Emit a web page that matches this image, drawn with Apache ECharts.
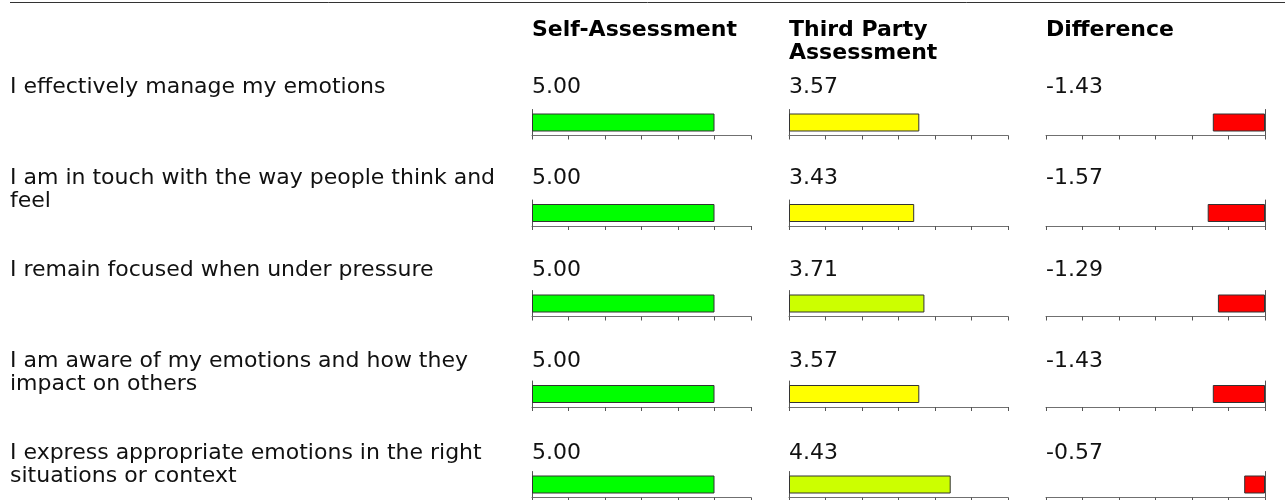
<!DOCTYPE html>
<html>
<head>
<meta charset="utf-8">
<title>Assessment comparison</title>
<script src="https://cdn.jsdelivr.net/npm/echarts@6/dist/echarts.min.js"></script>
<style>
  html, body { margin: 0; padding: 0; background: #fff; }
  #chart { width: 1285px; height: 500px; }
</style>
</head>
<body>
<div id="chart"></div>
<script>
// Statements being rated
const categories = [
  'I effectively manage my emotions',
  'I am in touch with the way people think and feel',
  'I remain focused when under pressure',
  'I am aware of my emotions and how they impact on others',
  'I express appropriate emotions in the right situations or context'
];
// Scores per statement
const selfScores = [5.00, 5.00, 5.00, 5.00, 5.00];
const thirdPartyScores = [3.57, 3.43, 3.71, 3.57, 4.43];
const differences = [-1.43, -1.57, -1.29, -1.43, -0.57];
// Column headings
const columnTitles = ['Self-Assessment', 'Third Party\nAssessment', 'Difference'];
// Scale ticks (0..6 for scores, -6..0 for the difference)
const scoreTicks = [0, 1, 2, 3, 4, 5, 6];
const diffTicks = [-6, -5, -4, -3, -2, -1, 0];

// ---- layout ----
const FONT = "'DejaVu Sans', Verdana, sans-serif";
const FONT_SIZE = 22;
const LINE_H = 23;
const LABEL_X = 10;
const COL_X = [532, 789, 1046];
const AXIS_W = 219;
const ROW_PITCH = 90.5;
const TEXT_PITCH = 91.5;
const GRID_TOP = 109.5;
const GRID_H = 26;
const TEXT_TOP = 75.5;
const HEAD_TOP = 18.5;

function barColor(col, v) {
  if (col === 2) return '#ff0000';
  if (v >= 4.75) return '#00ff00';
  if (v >= 3.65) return '#ccff00';
  return '#ffff00';
}

function textStyle(text, bold, extra) {
  return Object.assign({
    text: text,
    fontFamily: FONT,
    fontSize: FONT_SIZE,
    fontWeight: bold ? 'bold' : 'normal',
    fill: bold ? '#000' : '#111',
    lineHeight: LINE_H,
    verticalAlign: 'top',
    align: 'left'
  }, extra || {});
}

const columns = [selfScores, thirdPartyScores, differences];
const grids = [], xAxes = [], yAxes = [], series = [], graphics = [];

// rule across the top
graphics.push({
  type: 'line',
  shape: { x1: LABEL_X, y1: 2.5, x2: 1285, y2: 2.5 },
  style: { stroke: '#333', lineWidth: 1 }
});

// column headings
columnTitles.forEach((t, c) => {
  graphics.push({ type: 'text', x: COL_X[c], y: HEAD_TOP, style: textStyle(t, true) });
});

categories.forEach((name, r) => {
  const dy = r * ROW_PITCH;
  const ty = TEXT_TOP + r * TEXT_PITCH;
  graphics.push({
    type: 'text', x: LABEL_X, y: ty,
    style: textStyle(name, false, { width: 512, overflow: 'break' })
  });

  columns.forEach((vals, c) => {
    const v = vals[r];
    const k = r * 3 + c;
    const isDiff = c === 2;
    const ticks = isDiff ? diffTicks : scoreTicks;

    graphics.push({ type: 'text', x: COL_X[c], y: ty, style: textStyle(v.toFixed(2), false) });

    grids.push({ left: COL_X[c], top: GRID_TOP + dy, width: AXIS_W, height: GRID_H, containLabel: false });
    xAxes.push({
      type: 'value', gridIndex: k,
      min: ticks[0], max: ticks[ticks.length - 1], interval: 1,
      axisLine: { show: true, onZero: false, lineStyle: { color: '#707070', width: 1 } },
      axisTick: { show: true, length: 4, lineStyle: { color: '#555' } },
      axisLabel: { show: false },
      splitLine: { show: false }
    });
    yAxes.push({
      type: 'category', gridIndex: k, data: [name],
      position: isDiff ? 'right' : 'left',
      axisLine: { show: true, onZero: false, lineStyle: { color: '#555', width: 1 } },
      axisTick: { show: false },
      axisLabel: { show: false },
      splitLine: { show: false }
    });
    series.push({
      type: 'bar', xAxisIndex: k, yAxisIndex: k,
      data: [v], barWidth: 18, silent: true,
      itemStyle: { color: barColor(c, v), borderColor: '#333', borderWidth: 1 }
    });
  });
});

const chart = echarts.init(document.getElementById('chart'), null, { renderer: 'canvas' });
chart.setOption({
  animation: false,
  backgroundColor: '#fff',
  grid: grids,
  xAxis: xAxes,
  yAxis: yAxes,
  series: series,
  graphic: graphics
});
</script>
</body>
</html>
